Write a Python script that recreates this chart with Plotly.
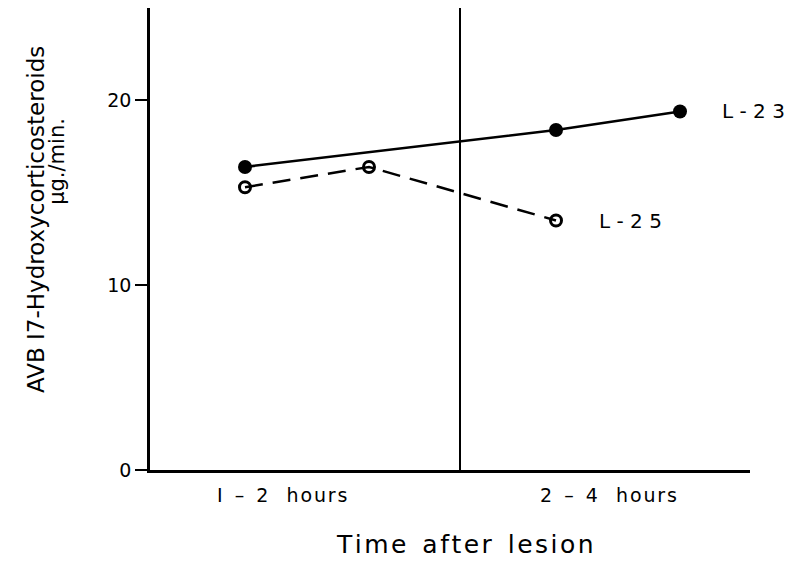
import plotly.graph_objects as go

# data
l23_x = [0.95, 4.06, 5.30]
l23_y = [16.4, 18.4, 19.4]
l25_x = [0.95, 2.19, 4.06]
l25_y = [15.3, 16.4, 13.5]
tick_vals = [0, 10, 20]
cat_labels = ["I – 2 hours", "2 – 4 hours"]
cat_pos = [1.32, 4.58]
divider_x = 3.1

FONT = "DejaVu Sans, Arial, sans-serif"
HS = "\u200a"  # hair space for letter spacing


def spaced(s, word_gap="  "):
    words = s.split(" ")
    return word_gap.join(HS.join(w) for w in words)


fig = go.Figure()
fig.add_trace(go.Scatter(
    x=l23_x, y=l23_y, mode="lines+markers",
    line=dict(color="black", width=2.5),
    marker=dict(symbol="circle", size=14, color="black"),
    showlegend=False))
fig.add_trace(go.Scatter(
    x=l25_x, y=l25_y, mode="lines+markers",
    line=dict(color="black", width=2.5, dash="18px,10px"),
    marker=dict(symbol="circle-open", size=11, color="black", line=dict(width=3)),
    showlegend=False))

fig.add_shape(type="line", xref="x", yref="y", x0=divider_x, x1=divider_x, y0=0, y1=25,
              line=dict(color="black", width=2))

# series labels
fig.add_annotation(x=l23_x[-1], y=l23_y[-1], text="L - 2 3", showarrow=False,
                   xanchor="left", xshift=40, font=dict(family=FONT, size=20, color="black"))
fig.add_annotation(x=l25_x[-1], y=l25_y[-1], text="L - 2 5", showarrow=False,
                   xanchor="left", xshift=41, font=dict(family=FONT, size=20, color="black"))

# category labels
for p, t in zip(cat_pos, cat_labels):
    a, dash_, b, word = t.split(" ")
    label = a + "  " + dash_ + "  " + b + "   " + HS.join(word)
    fig.add_annotation(x=p, y=0, yref="y", text=label, showarrow=False, yanchor="top", yshift=-12,
                       font=dict(family=FONT, size=19, color="black"))

fig.add_annotation(x=0.5, xref="paper", xshift=15, y=0, yref="paper", yshift=-58, yanchor="top",
                   text=spaced("Time after lesion"), showarrow=False,
                   font=dict(family=FONT, size=25, color="black"))

# y title
fig.add_annotation(x=0, xref="paper", xshift=-114, xanchor="center", y=0.541, yref="paper",
                   yanchor="middle",
                   text="AVB I7-Hydroxycorticosteroids", textangle=-90, showarrow=False,
                   font=dict(family=FONT, size=23, color="black"))
fig.add_annotation(x=0, xref="paper", xshift=-93, xanchor="center", y=0.667, yref="paper",
                   yanchor="middle",
                   text="μg./min.", textangle=-90, showarrow=False,
                   font=dict(family=FONT, size=21, color="black"))

fig.update_xaxes(range=[0, 6], showgrid=False, zeroline=False, showticklabels=False,
                 showline=True, linecolor="black", linewidth=2.5, ticks="")
fig.update_yaxes(range=[0, 25], showgrid=False, zeroline=False, tickvals=tick_vals,
                 ticks="outside", ticklen=12, tickwidth=2, tickcolor="black",
                 showline=True, linecolor="black", linewidth=2.5,
                 tickfont=dict(family=FONT, size=19, color="black"))

fig.update_layout(width=799, height=561, margin=dict(l=150, r=49, t=8, b=91),
                  plot_bgcolor="white", paper_bgcolor="white")

fig.write_html("out.html")
